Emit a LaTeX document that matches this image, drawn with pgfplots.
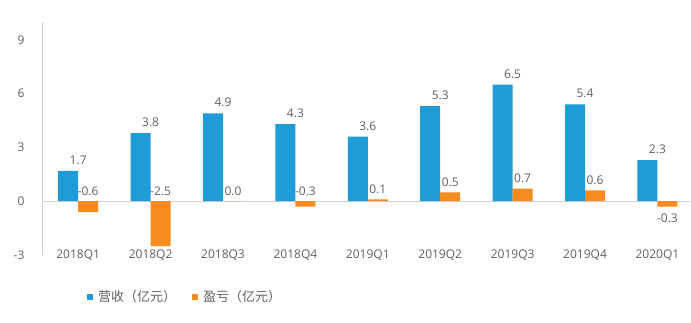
\documentclass[border=0pt]{standalone}
\usepackage{pgfplots}
\pgfplotsset{compat=1.18}
\usepackage{fontspec}
\setmainfont{Open Sans}
\newfontfamily\cjk{Noto Sans CJK SC}
\definecolor{cblue}{HTML}{1F9BD7}
\definecolor{corange}{HTML}{F68B1F}
\definecolor{tgray}{HTML}{606060}
\definecolor{lgray}{HTML}{D0D0D0}
\begin{document}
\begin{tikzpicture}
\useasboundingbox (-42pt,-68pt) rectangle (649pt,255pt);
\begin{axis}[
  at={(0,0)}, anchor=south west,
  scale only axis, width=648pt, height=233pt,
  xmin=-0.5, xmax=8.45, ymin=-3, ymax=10,
  axis x line=none,
  axis y line*=left,
  y axis line style={lgray, line width=0.8pt, -},
  ytick={-3,0,3,6,9},
  major tick length=0pt,
  yticklabel style={font=\fontsize{12}{14}\selectfont, text=tgray, xshift=-14pt},
  /pgf/number format/assume math mode=true,
  clip=false,
  legend style={at={(42pt,-42pt)}, anchor=west, draw=none, fill=none,
     font=\cjk\fontsize{13}{15}\selectfont, text=tgray,
     legend columns=2,
     /tikz/every even column/.append style={column sep=14pt}},
  legend image code/.code={\fill[#1] (0pt,-3pt) rectangle (6pt,3pt); \path (9pt,0pt);},
]
% x axis line at zero
\addplot[lgray, line width=0.8pt, forget plot] coordinates {(-0.5,0) (8.45,0)};
% category labels
\addplot[only marks, mark=none, forget plot, point meta=explicit symbolic,
  nodes near coords, nodes near coords style={anchor=center, font=\fontsize{12}{14}\selectfont, text=tgray}]
  coordinates {(0,-3)[2018Q1] (1,-3)[2018Q2] (2,-3)[2018Q3] (3,-3)[2018Q4] (4,-3)[2019Q1]
               (5,-3)[2019Q2] (6,-3)[2019Q3] (7,-3)[2019Q4] (8,-3)[2020Q1]};
\addplot[ybar, bar width=20pt, bar shift=-10pt, fill=cblue, draw=none,
  nodes near coords, point meta=y,
  nodes near coords style={font=\fontsize{12}{14}\selectfont, text=tgray, yshift=3pt,
     /pgf/number format/.cd, fixed, zerofill, precision=1}]
  coordinates {(0,1.7) (1,3.8) (2,4.9) (3,4.3) (4,3.6) (5,5.3) (6,6.5) (7,5.4) (8,2.3)};
\addlegendentry{营收（亿元）}
\addplot[ybar, bar width=20pt, bar shift=10pt, fill=corange, draw=none]
  coordinates {(0,-0.6) (1,-2.5) (2,0.0) (3,-0.3) (4,0.1) (5,0.5) (6,0.7) (7,0.6) (8,-0.3)};
\addlegendentry{盈亏（亿元）}
% orange labels (placed above zero / bar top)
\addplot[only marks, mark=none, forget plot, point meta=explicit symbolic,
  nodes near coords, nodes near coords style={anchor=south, xshift=10pt, yshift=2pt, font=\fontsize{12}{14}\selectfont, text=tgray}]
  coordinates {(0,0)[-0.6] (1,0)[-2.5] (2,0)[0.0] (3,0)[-0.3] (4,0.1)[0.1]
               (5,0.5)[0.5] (6,0.7)[0.7] (7,0.6)[0.6]};
\addplot[only marks, mark=none, forget plot, point meta=explicit symbolic,
  nodes near coords, nodes near coords style={anchor=north, xshift=10pt, yshift=-4pt, font=\fontsize{12}{14}\selectfont, text=tgray}]
  coordinates {(8,-0.3)[-0.3]};
\end{axis}
\end{tikzpicture}
\end{document}
